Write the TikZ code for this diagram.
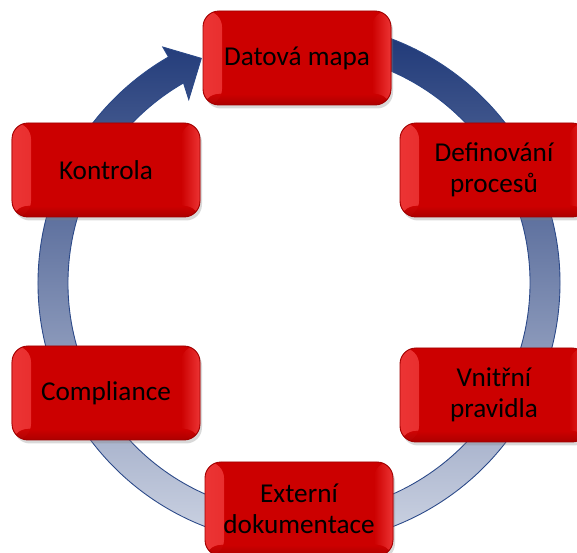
\documentclass[tikz,border=0pt]{standalone}
\usepackage{fontspec}
\setmainfont{Carlito}
\usetikzlibrary{calc,shadows}
\definecolor{ringtop}{HTML}{1C3676}
\definecolor{ringbot}{HTML}{D2D8E6}
\definecolor{ringedge}{HTML}{2A4888}
\definecolor{boxside}{HTML}{EC3434}
\definecolor{boxmid}{HTML}{CC0000}
\definecolor{boxedge}{HTML}{A00000}
\tikzset{
  tile/.style={rounded corners=.32cm, minimum width=3.76cm, minimum height=1.88cm,
    fill=boxmid, draw=boxedge, line width=.5pt, align=center, text=black,
    font=\fontsize{15.5}{17.5}\selectfont,
    drop shadow={opacity=.3, shadow xshift=.04cm, shadow yshift=-.07cm},
    path picture={
      \fill[left color=boxside, right color=boxmid]
        (path picture bounding box.south west)
        rectangle ([xshift=.38cm]path picture bounding box.north west);
      \fill[left color=boxmid, right color=boxside]
        ([xshift=-.38cm]path picture bounding box.south east)
        rectangle (path picture bounding box.north east);
      \fill[top color=boxmid, bottom color=boxedge, opacity=.7]
        (path picture bounding box.south west)
        rectangle ([yshift=.22cm]path picture bounding box.south east);
    }}
}
\begin{document}
\begin{tikzpicture}
  \useasboundingbox (0,0) rectangle (11.54,11.06);
  \coordinate (hub) at (5.98,5.4);
  % cycle ring, clockwise, ending in the head left of the top box
  \path[draw=ringedge, line width=.5pt, top color=ringtop, bottom color=ringbot]
    ($(hub)+(85:5.22)$) arc[start angle=85, end angle=-240, radius=5.22]
    -- ($(hub)+(120:5.45)$) -- ($(hub)+(113.5:4.9)$) -- ($(hub)+(121:4.28)$)
    -- ($(hub)+(120:4.62)$) arc[start angle=-240, end angle=85, radius=4.62]
    -- cycle;
  \node[tile] (mapa) at (5.94,9.9) {Datová mapa};
  \node[tile] (procesy) at (9.88,7.66) {Definování\\procesů};
  \node[tile] (pravidla) at (9.88,3.16) {Vnitřní\\pravidla};
  \node[tile] (externi) at (5.98,0.88) {Externí\\dokumentace};
  \node[tile] (compliance) at (2.12,3.2) {Compliance};
  \node[tile] (kontrola) at (2.12,7.66) {Kontrola};
\end{tikzpicture}
\end{document}
